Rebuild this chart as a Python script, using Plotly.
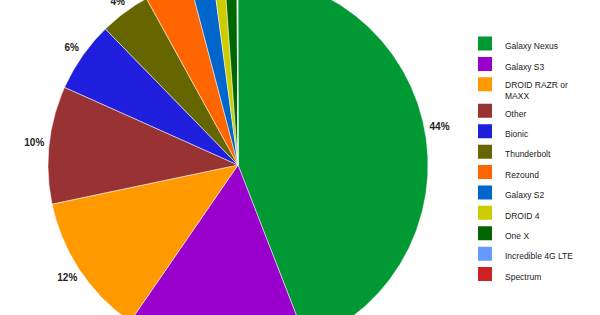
import numpy as np
import plotly.graph_objects as go

labels = ["Galaxy Nexus", "Galaxy S3", "DROID RAZR or<br>MAXX", "Other", "Bionic",
          "Thunderbolt", "Rezound", "Galaxy S2", "DROID 4", "One X",
          "Incredible 4G LTE", "Spectrum"]
values = [44.1, 15.5, 12.1, 10.0, 6.0, 4.3, 3.9, 2.0, 0.96, 1.06, 0.05, 0.03]
colors = ["#009933", "#9900cc", "#ff9900", "#993333", "#1f1fdd", "#666600",
          "#ff6600", "#0066cc", "#cccc00", "#006600", "#6699ff", "#cc2222"]

total = float(sum(values))
fig = go.Figure()

RADIUS_PX = 190.0

start = 0.0
mid_angles = []
for lab, v, c in zip(labels, values, colors):
    a0 = start / total * 2 * np.pi
    a1 = (start + v) / total * 2 * np.pi
    n = max(3, int((a1 - a0) / (2 * np.pi) * 720))
    th = np.linspace(a0, a1, n)
    xs = np.concatenate([[0], np.sin(th), [0]])
    ys = np.concatenate([[0], np.cos(th), [0]])
    fig.add_trace(go.Scatter(x=xs, y=ys, fill="toself", mode="lines",
                             line=dict(width=0.5, color="white"), fillcolor=c,
                             showlegend=False, legendgroup=lab, hoverinfo="skip"))
    fig.add_trace(go.Scatter(x=[None], y=[None], mode="markers",
                             marker=dict(symbol="square", size=14, color=c),
                             name=lab, legendgroup=lab))
    mid_angles.append((a0 + a1) / 2)
    start += v

mid_angles = np.array(mid_angles)
texts = [f"{round(v / total * 100)}%" if v / total * 100 >= 4.0 else "" for v in values]
# label offset: fixed gap beyond the rim plus half of the label's extent along the radius
half_ext = []
for t, a in zip(texts, mid_angles):
    w = 5.56 * (len(t) - 1) + 8.9
    h = 8.0
    half_ext.append(w / 2 * abs(np.sin(a)) + h / 2 * abs(np.cos(a)))
lab_r = 1.0 + (4.5 + np.array(half_ext)) / RADIUS_PX
fig.add_trace(go.Scatter(x=lab_r * np.sin(mid_angles), y=lab_r * np.cos(mid_angles),
                         mode="text", text=texts, showlegend=False, hoverinfo="skip",
                         cliponaxis=True,
                         textfont=dict(family="Arial, Liberation Sans", size=10,
                                       color="#222222", weight="bold")))

fig.update_layout(
    width=600, height=315,
    margin=dict(l=0, r=0, t=0, b=0),
    paper_bgcolor="white", plot_bgcolor="white",
    xaxis=dict(range=[-238 / RADIUS_PX, 362 / RADIUS_PX], visible=False, fixedrange=True),
    yaxis=dict(range=[-150 / RADIUS_PX, 165 / RADIUS_PX], visible=False, fixedrange=True),
    legend=dict(x=465 / 600, y=1 - 31.5 / 315, xanchor="left", yanchor="top",
                traceorder="grouped", tracegroupgap=1.4, valign="top",
                bgcolor="rgba(0,0,0,0)",
                font=dict(family="Arial, Liberation Sans", size=8.5, color="#222222")),
    showlegend=True,
)

fig.write_html("out.html")
